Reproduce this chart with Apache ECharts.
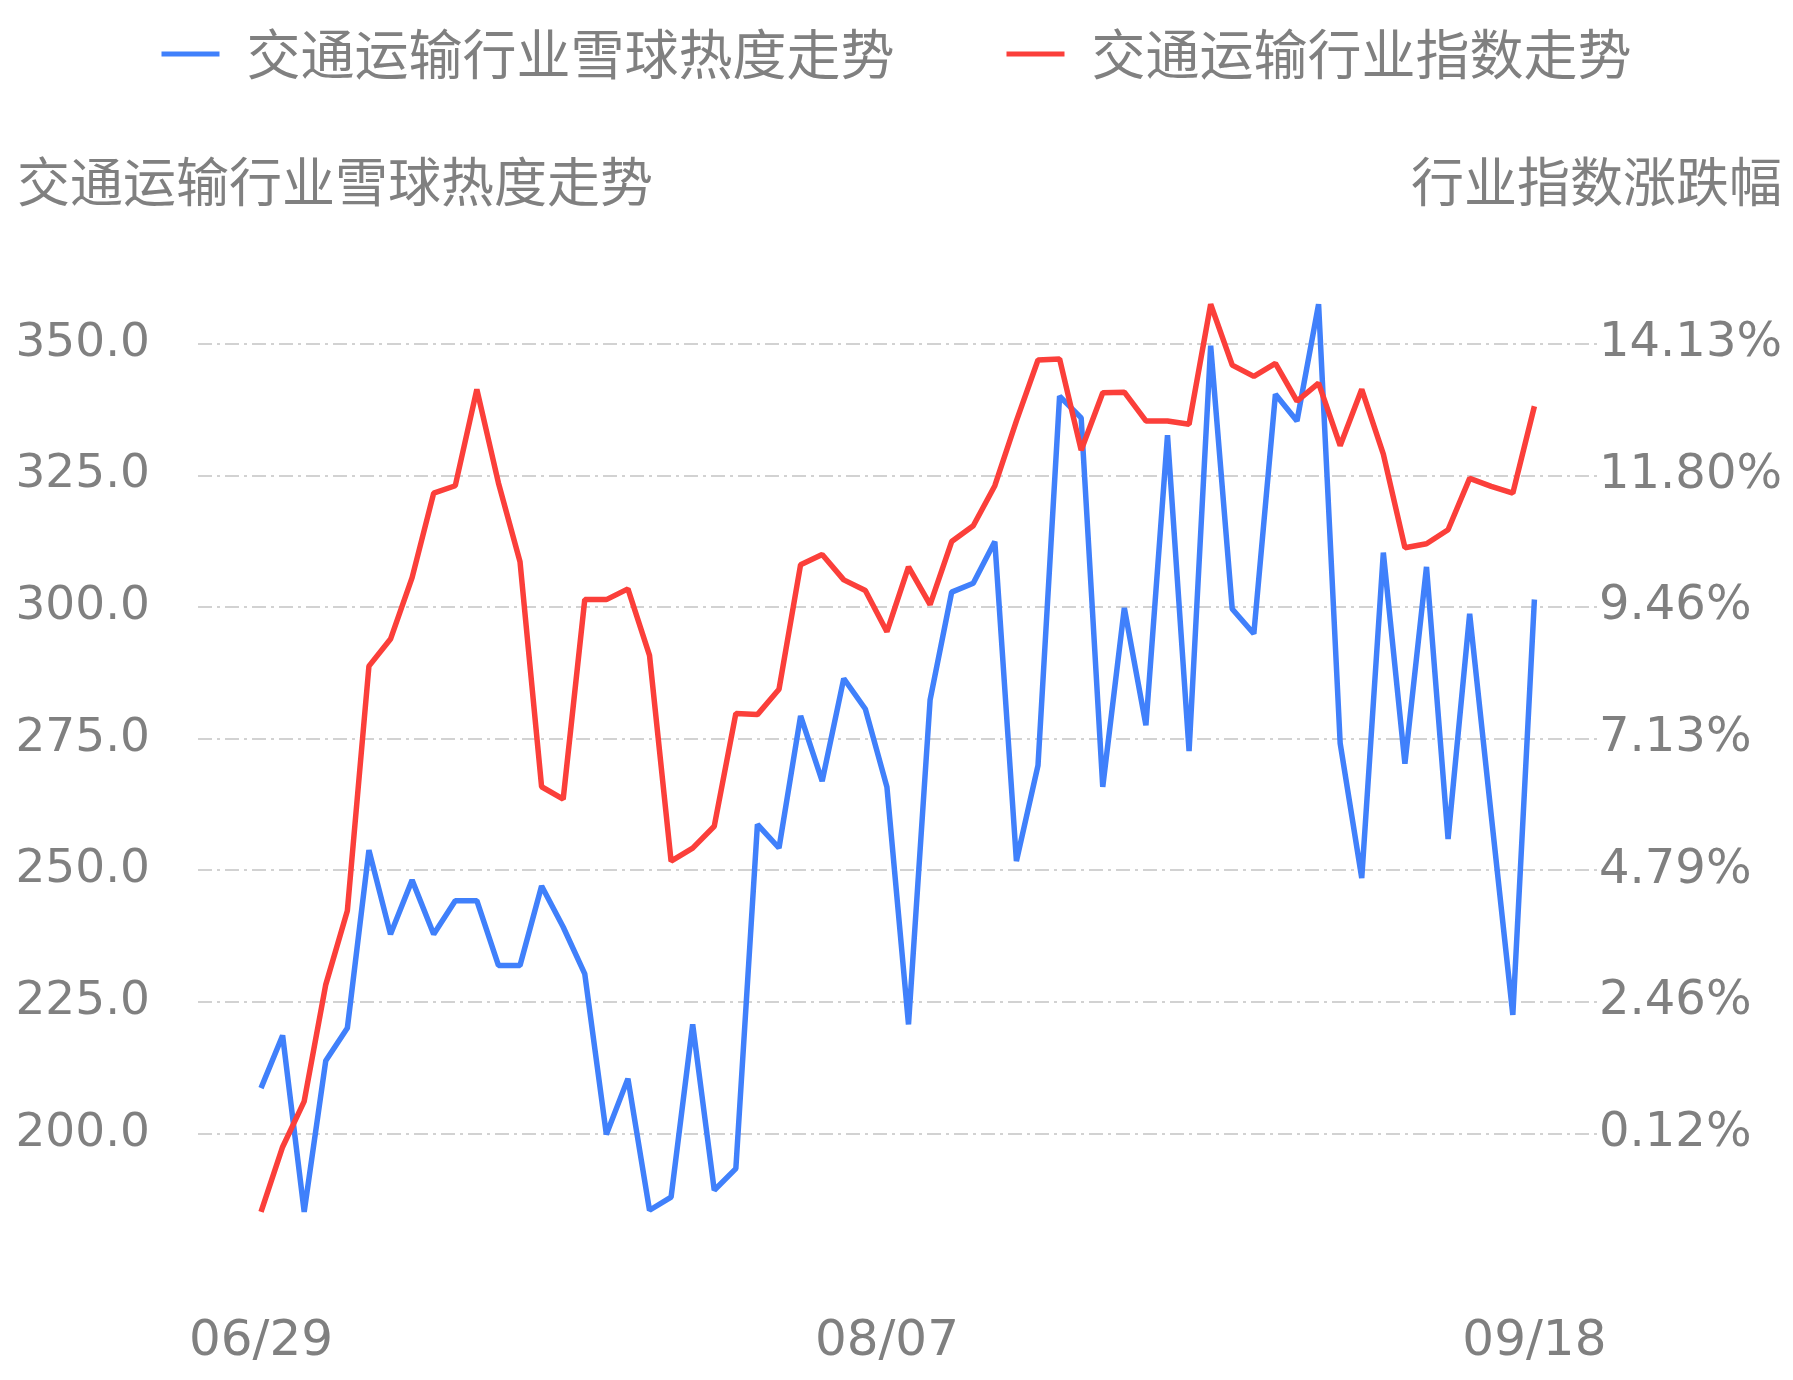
<!DOCTYPE html>
<html><head><meta charset="utf-8">
<script src="https://cdn.jsdelivr.net/npm/echarts@6/dist/echarts.min.js"></script>
<style>html,body{margin:0;padding:0;background:#fff}#c{width:1793px;height:1380px}</style>
</head><body><div id="c"></div>
<script>
const dates = ['06/29','06/30','07/01','07/02','07/03','07/06','07/07','07/08','07/09','07/10','07/13','07/14','07/15','07/16','07/17','07/20','07/21','07/22','07/23','07/24','07/27','07/28','07/29','07/30','07/31','08/03','08/04','08/05','08/06','08/07','08/10','08/11','08/12','08/13','08/14','08/17','08/18','08/19','08/20','08/21','08/24','08/25','08/26','08/27','08/28','08/31','09/01','09/02','09/03','09/04','09/07','09/08','09/09','09/10','09/11','09/14','09/15','09/16','09/17','09/18'];
const heat = [208.6,218.6,185.1,213.8,220.0,253.8,237.8,248.1,237.8,244.2,244.2,231.9,231.9,247.0,239.2,230.3,199.8,210.4,185.4,187.9,220.7,189.2,193.3,258.7,254.2,279.3,266.9,286.4,280.6,265.8,
220.7,282.3,302.8,304.5,312.4,251.7,269.9,340.0,335.9,265.8,299.8,277.5,332.6,272.6,349.6,299.6,294.9,340.4,335.3,357.5,274.1,248.5,310.3,270.2,307.6,255.9,298.7,260.4,222.5,301.4];
const indexPct = [-1.27,-0.12,0.69,2.76,4.07,8.41,8.89,9.98,11.48,11.61,13.32,11.66,10.26,6.27,6.05,9.59,9.59,9.78,8.60,4.95,5.18,5.57,7.57,7.55,8.00,10.21,10.39,9.94,9.75,9.02,
10.17,9.50,10.62,10.90,11.61,12.76,13.84,13.86,12.24,13.26,13.27,12.76,12.76,12.70,14.83,13.75,13.55,13.78,13.11,13.43,12.32,13.32,12.17,10.51,10.58,10.83,11.74,11.60,11.48,13.02];
const labelIdx = [0,29,59];
const names = ['交通运输行业雪球热度走势','交通运输行业指数走势'];

const gray = '#808080';
const numFont = 'DejaVu Sans';
const chart = echarts.init(document.getElementById('c'));
chart.setOption({
  animation:false,
  legend:{top:22,left:'center',itemWidth:58,itemHeight:5,itemGap:112,icon:'rect',
    textStyle:{fontSize:54,color:gray,padding:[0,0,0,22],fontFamily:'Noto Sans CJK SC'},
    data:names},
  title:[
    {text:'交通运输行业雪球热度走势',left:12,top:150,textStyle:{fontSize:53,fontWeight:'normal',color:gray,fontFamily:'Noto Sans CJK SC'}},
    {text:'行业指数涨跌幅',right:6,top:150,textStyle:{fontSize:53,fontWeight:'normal',color:gray,fontFamily:'Noto Sans CJK SC'}}
  ],
  grid:{left:198,right:196,top:212,bottom:115},
  xAxis:{type:'value',min:-2.92,max:61.9,axisLine:{show:false},axisTick:{show:false},splitLine:{show:false},
    axisLabel:{customValues:labelIdx,formatter:v=>dates[Math.round(v)],fontSize:50,color:gray,margin:52,fontFamily:numFont}},
  yAxis:[
    {type:'value',min:175,max:375,interval:25,axisLine:{show:false},axisTick:{show:false},
     axisLabel:{formatter:v=>v.toFixed(1),fontSize:47,color:gray,margin:48,showMinLabel:false,showMaxLabel:false,fontFamily:numFont},
     splitLine:{showMinLine:false,showMaxLine:false,lineStyle:{color:'#c4c4c4',width:1.5,type:[14,5,3,5]}}},
    {type:'value',min:-2.214,max:16.466,interval:2.335,axisLine:{show:false},axisTick:{show:false},
     axisLabel:{formatter:v=>v.toFixed(2)+'%',fontSize:48,color:gray,margin:2,showMinLabel:false,showMaxLabel:false,fontFamily:numFont},
     splitLine:{show:false}}
  ],
  series:[
    {name:names[0],type:'line',yAxisIndex:0,showSymbol:false,data:heat.map((v,i)=>[i,v]),
     lineStyle:{color:'#4080fb',width:5.5},itemStyle:{color:'#4080fb'}},
    {name:names[1],type:'line',yAxisIndex:1,showSymbol:false,data:indexPct.map((v,i)=>[i,v]),
     lineStyle:{color:'#fb3f3a',width:5.5},itemStyle:{color:'#fb3f3a'}}
  ]
});
</script></body></html>
